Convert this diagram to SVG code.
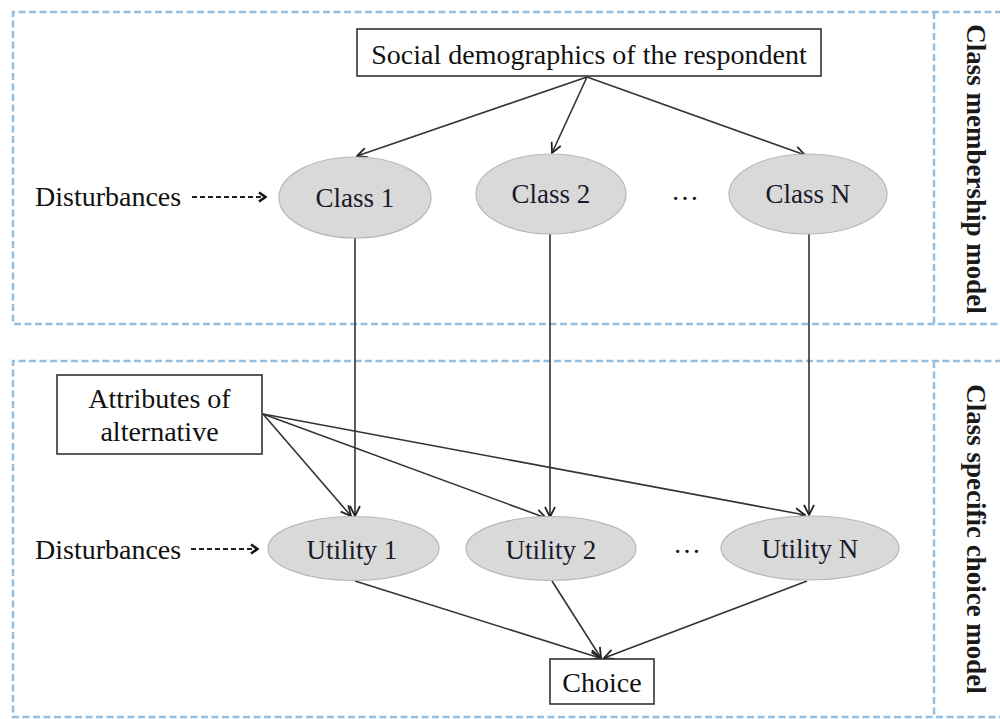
<svg xmlns="http://www.w3.org/2000/svg" width="1000" height="719" viewBox="0 0 1000 719">
<style>
  .frame { fill: none; stroke: #93bedf; stroke-width: 2.5; stroke-dasharray: 7 3.5; }
  .box { fill: #ffffff; stroke: #333333; stroke-width: 1.6; }
  .oval { fill: #d9d9d9; stroke: #b8b8b8; stroke-width: 1.2; }
  .t { font-family: "Liberation Serif", "Times New Roman", serif; font-size: 28px; fill: #111111; }
  .ot { font-family: "Liberation Serif", "Times New Roman", serif; font-size: 27px; fill: #1a1a2a; text-anchor: middle; }
  .side { font-family: "Liberation Serif", "Times New Roman", serif; font-size: 27px; font-weight: bold; fill: #1a1a1a; text-anchor: middle; }
  .edge { fill: none; stroke: #333333; stroke-width: 1.6; marker-end: url(#arrow); }
  .dash { fill: none; stroke: #222222; stroke-width: 1.8; stroke-dasharray: 5 3; marker-end: url(#arrowBold); }
</style>
<defs>
  <marker id="arrow" viewBox="0 0 12 12" refX="11" refY="6" markerWidth="12" markerHeight="12" markerUnits="userSpaceOnUse" orient="auto">
    <path d="M1,1 L11,6 L1,11" fill="none" stroke="#222222" stroke-width="1.8"/>
  </marker>
  <marker id="arrowBold" viewBox="0 0 10 12" refX="9" refY="6" markerWidth="10" markerHeight="12" markerUnits="userSpaceOnUse" orient="auto">
    <path d="M2,1.5 L8.5,6 L2,10.5" fill="none" stroke="#111111" stroke-width="2.6"/>
  </marker>
</defs>
<rect width="1000" height="719" fill="#ffffff"/>

<g id="frames">
  <path class="frame" d="M1002,12 L13,12 L13,324 L1002,324"/>
  <line class="frame" x1="934" y1="12" x2="934" y2="324"/>
  <path class="frame" d="M1002,361 L13,361 L13,717 L1002,717"/>
  <line class="frame" x1="934" y1="361" x2="934" y2="717"/>
</g>

<g id="connectors">
  <line class="edge" x1="587" y1="77" x2="357" y2="156"/>
  <line class="edge" x1="587" y1="77" x2="552" y2="153"/>
  <line class="edge" x1="587" y1="77" x2="805" y2="155"/>
  <line class="dash" x1="192" y1="197" x2="266" y2="197"/>
  <line class="dash" x1="191" y1="549" x2="258" y2="549"/>
  <line class="edge" x1="355" y1="238" x2="355" y2="516"/>
  <line class="edge" x1="550" y1="234" x2="550" y2="517"/>
  <line class="edge" x1="809" y1="234" x2="809" y2="515"/>
  <line class="edge" x1="263" y1="414" x2="351" y2="516"/>
  <line class="edge" x1="263" y1="414" x2="546" y2="518"/>
  <line class="edge" x1="263" y1="414" x2="805" y2="515"/>
  <line class="edge" x1="355" y1="581" x2="600" y2="658"/>
  <line class="edge" x1="552" y1="581" x2="601" y2="658"/>
  <line class="edge" x1="807" y1="581" x2="604" y2="658"/>
</g>

<g id="social">
  <rect class="box" x="357" y="29" width="464" height="47"/>
  <text class="t" x="589" y="64" text-anchor="middle">Social demographics of the respondent</text>
</g>

<g id="disturbances1">
  <text class="t" x="35" y="206">Disturbances</text>
</g>

<g id="class1">
  <ellipse class="oval" cx="355" cy="197.5" rx="76" ry="40.5"/>
  <text class="ot" x="355" y="207">Class 1</text>
</g>
<g id="class2">
  <ellipse class="oval" cx="551" cy="194" rx="75" ry="40"/>
  <text class="ot" x="551" y="203">Class 2</text>
</g>
<g id="dots1">
  <text class="t" x="685" y="200" text-anchor="middle">…</text>
</g>
<g id="classN">
  <ellipse class="oval" cx="808" cy="194" rx="79" ry="40"/>
  <text class="ot" x="808" y="203">Class N</text>
</g>

<g id="attributes">
  <rect class="box" x="57" y="375" width="205" height="79"/>
  <text class="t" x="159.5" y="408" text-anchor="middle">Attributes of</text>
  <text class="t" x="159.5" y="441" text-anchor="middle">alternative</text>
</g>

<g id="disturbances2">
  <text class="t" x="35" y="559">Disturbances</text>
</g>

<g id="utility1">
  <ellipse class="oval" cx="353.5" cy="548.5" rx="85.5" ry="32"/>
  <text class="ot" x="352" y="559">Utility 1</text>
</g>
<g id="utility2">
  <ellipse class="oval" cx="551" cy="548.5" rx="85" ry="32"/>
  <text class="ot" x="551" y="559">Utility 2</text>
</g>
<g id="dots2">
  <text class="t" x="687" y="553" text-anchor="middle">…</text>
</g>
<g id="utilityN">
  <ellipse class="oval" cx="810" cy="548" rx="89" ry="32"/>
  <text class="ot" x="810" y="558">Utility N</text>
</g>

<g id="choice">
  <rect class="box" x="550" y="659" width="104" height="45"/>
  <text class="t" x="602" y="692" text-anchor="middle">Choice</text>
</g>

<g id="label-membership">
  <text class="side" transform="translate(967,169) rotate(90)" x="0" y="0">Class membership model</text>
</g>
<g id="label-choice">
  <text class="side" transform="translate(967,539) rotate(90)" x="0" y="0">Class specific choice model</text>
</g>
</svg>
